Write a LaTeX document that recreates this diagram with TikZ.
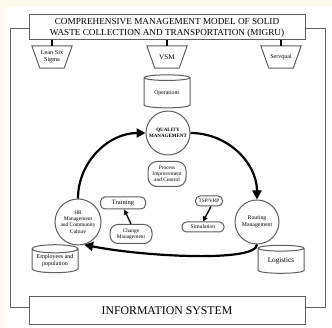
\documentclass[tikz,border=0pt]{standalone}
\usepackage{fontspec}
\setmainfont{Liberation Serif}
\usetikzlibrary{arrows.meta, shapes.geometric}
\definecolor{linegray}{RGB}{95,95,95}
\definecolor{cream}{RGB}{253,250,236}

\begin{document}
\begin{tikzpicture}[x=1pt, y=1pt,
    box/.style={draw=linegray, line width=1pt, fill=white, align=center, inner sep=0pt},
    trap/.style={align=center, inner sep=0pt, minimum width=40pt, minimum height=22pt},
    drum/.style={box, cylinder, shape border rotate=90, aspect=0.22,
      minimum width=46pt, minimum height=28pt},
    disc/.style={box, circle, minimum size=44pt},
    pill/.style={box, rounded corners=4.5pt},
    stub/.style={line width=2pt},
    flow/.style={-{Triangle[length=9pt,width=9pt]}, line width=2.2pt},
    thin flow/.style={-{Triangle[length=5pt,width=5pt]}, line width=1.3pt}]
    \useasboundingbox (0,0) rectangle (332,-328);
    \fill[cream] (0,0) rectangle (332,-328);
    \fill[white] (5,-7) rectangle (332,-328);
    \draw[linegray, line width=1pt] (10,-29) rectangle (325,-308);
    \node[box, minimum width=276pt, minimum height=25pt, font=\fontsize{9.2}{11}\selectfont] (title) at (167,-27.5)
      {COMPREHENSIVE MANAGEMENT MODEL OF SOLID\\WASTE COLLECTION AND TRANSPORTATION (MIGRU)};
    \node[box, minimum width=276pt, minimum height=28pt, font=\fontsize{11.8}{13}\selectfont] (info) at (167,-311)
      {INFORMATION SYSTEM};
    \node[trap, font=\fontsize{6.2}{7}\selectfont] (lss) at (52,-57) {Lean Six\\Sigma};
    \node[trap, font=\fontsize{7.2}{8}\selectfont] (vsm) at (167,-57) {VSM};
    \node[trap, font=\fontsize{6}{7}\selectfont] (sq) at (281,-57) {Servqual};
    \foreach \t in {lss, vsm, sq} {
      \draw[linegray, line width=1pt] (\t.north west) -- (\t.north east)
        -- ([xshift=-8pt]\t.south east) -- ([xshift=8pt]\t.south west) -- cycle;
      \draw[stub] (\t.north) -- (\t.north |- title.south);
    }
    \node[drum, minimum height=33pt, font=\fontsize{5.8}{6.5}\selectfont] (ops) at (167,-93) {Operations};
    \node[disc, font=\bfseries\fontsize{5}{6}\selectfont] (qm) at (168,-133) {QUALITY\\MANAGEMENT};
    \node[box, rounded corners=9pt, minimum width=38pt, minimum height=25pt, font=\fontsize{5.4}{6.2}\selectfont] (pic) at (167,-174)
      {Process\\Improvement\\and Control};
    \node[disc, minimum size=46pt, font=\fontsize{5.4}{6.2}\selectfont] (hr) at (78,-222)
      {HR\\Management\\and Community\\Culture};
    \node[disc, font=\fontsize{5.8}{7}\selectfont] (rm) at (257,-222) {Routing\\Management};
    \node[pill, minimum width=45pt, minimum height=12pt, font=\fontsize{6.5}{7}\selectfont] (train) at (123,-203) {Training};
    \node[pill, rounded corners=8pt, minimum width=42pt, minimum height=19pt, font=\fontsize{5.4}{6.2}\selectfont] (change) at (131,-234)
      {Change\\Management};
    \node[pill, minimum width=27pt, minimum height=10pt, font=\fontsize{5.2}{6}\selectfont] (tsp) at (209,-201) {TSP/VRP};
    \node[pill, minimum width=42pt, minimum height=10pt, font=\fontsize{5.6}{6}\selectfont] (sim) at (203,-227) {Simulation};
    \node[drum, font=\fontsize{6}{7}\selectfont] (emp) at (55,-261) {Employees and\\population};
    \node[drum, font=\fontsize{7.2}{8}\selectfont] (log) at (281,-261) {Logistics};
    \draw[flow] (hr.north) to[out=90, in=180] (qm.west);
    \draw[flow] (qm.east) to[out=0, in=90] (rm.north);
    \draw[flow] (rm.south) .. controls +(0,-18) and +(60,-12) .. (hr.-75);
    \draw[thin flow] (change.north) -- (train.-80);
    \draw[thin flow] (tsp.-70) -- (sim.north);
\end{tikzpicture}
\end{document}
